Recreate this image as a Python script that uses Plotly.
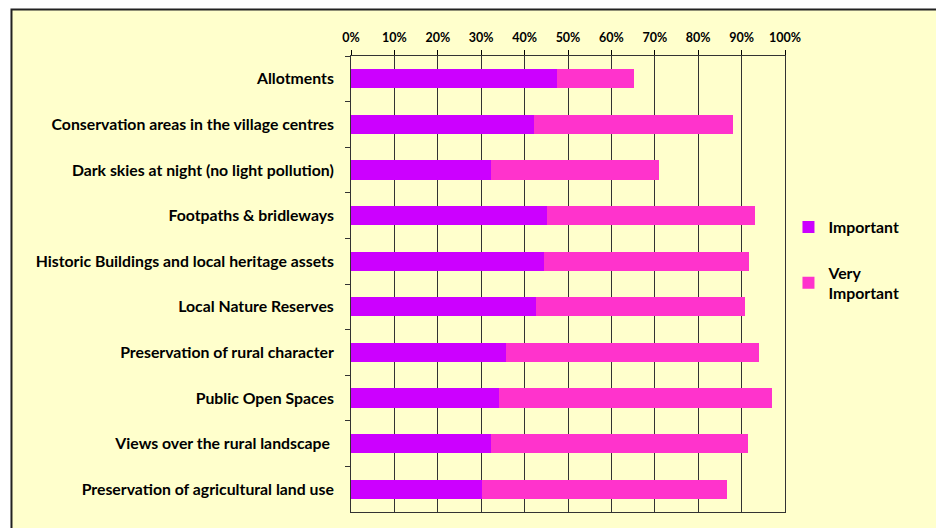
import plotly.graph_objects as go

# Survey results (% of respondents)
categories = [
    "Allotments",
    "Conservation areas in the village centres",
    "Dark skies at night (no light pollution)",
    "Footpaths & bridleways",
    "Historic Buildings and local heritage assets",
    "Local Nature Reserves",
    "Preservation of rural character",
    "Public Open Spaces",
    "Views over the rural landscape ",
    "Preservation of agricultural land use",
]
important = [47.4, 42.1, 32.3, 45.2, 44.4, 42.6, 35.8, 34.0, 32.3, 30.1]
very_important = [17.7, 46.0, 38.6, 48.0, 47.4, 48.2, 58.3, 63.0, 59.2, 56.6]
tick_vals = [0, 10, 20, 30, 40, 50, 60, 70, 80, 90, 100]
tick_text = [f"{v}%" for v in tick_vals]

FONT = "Lato"

fig = go.Figure()
fig.add_trace(go.Bar(
    y=categories, x=important, name="Important", orientation="h",
    legendgroup="imp",
    marker=dict(color="#CC00FF", line=dict(width=0)),
))
fig.add_trace(go.Bar(
    y=categories, x=very_important, name="Very<br>Important", orientation="h",
    legendgroup="vimp",
    marker=dict(color="#FF33CC", line=dict(width=0)),
))

# yellow chart frame with dark border
fig.add_shape(
    type="rect", xref="paper", yref="paper",
    x0=-0.7823, x1=1.3525, y0=-0.2, y1=1.102,
    fillcolor="#FFFFCC", line=dict(color="#222222", width=2), layer="below",
)

# page body adds ~8px offset, so margins are shifted by that amount
fig.update_layout(
    width=944, height=528,
    margin=dict(l=343, r=167, t=48, b=24),
    paper_bgcolor="white",
    plot_bgcolor="rgba(0,0,0,0)",
    barmode="stack",
    bargap=0.58,
    font=dict(family=FONT, size=15.8, color="black"),
    showlegend=True,
    legend=dict(
        x=1.008, y=0.662, xanchor="left", yanchor="top",
        traceorder="grouped", bgcolor="rgba(0,0,0,0)",
        font=dict(family=FONT, size=15.8, color="black", weight="bold"),
        tracegroupgap=22, itemwidth=30,
    ),
    xaxis=dict(
        side="top", range=[0, 100], tickvals=tick_vals, ticktext=tick_text,
        showgrid=True, gridcolor="#333333", gridwidth=1,
        showline=True, linecolor="#333333", linewidth=1, mirror=True,
        ticks="outside", ticklen=5, tickcolor="black",
        ticklabelstandoff=3,
        tickfont=dict(family=FONT, size=12.5, color="black", weight="bold"),
        zeroline=False, fixedrange=True,
    ),
    yaxis=dict(
        autorange="reversed", showgrid=False,
        showline=True, linecolor="#333333", linewidth=1, mirror=True,
        ticks="outside", ticklen=5, tickcolor="#333333", tickson="boundaries",
        ticklabelstandoff=13,
        tickfont=dict(family=FONT, size=15.8, color="black", weight="bold"),
        fixedrange=True,
    ),
)

fig.write_html("out.html")
